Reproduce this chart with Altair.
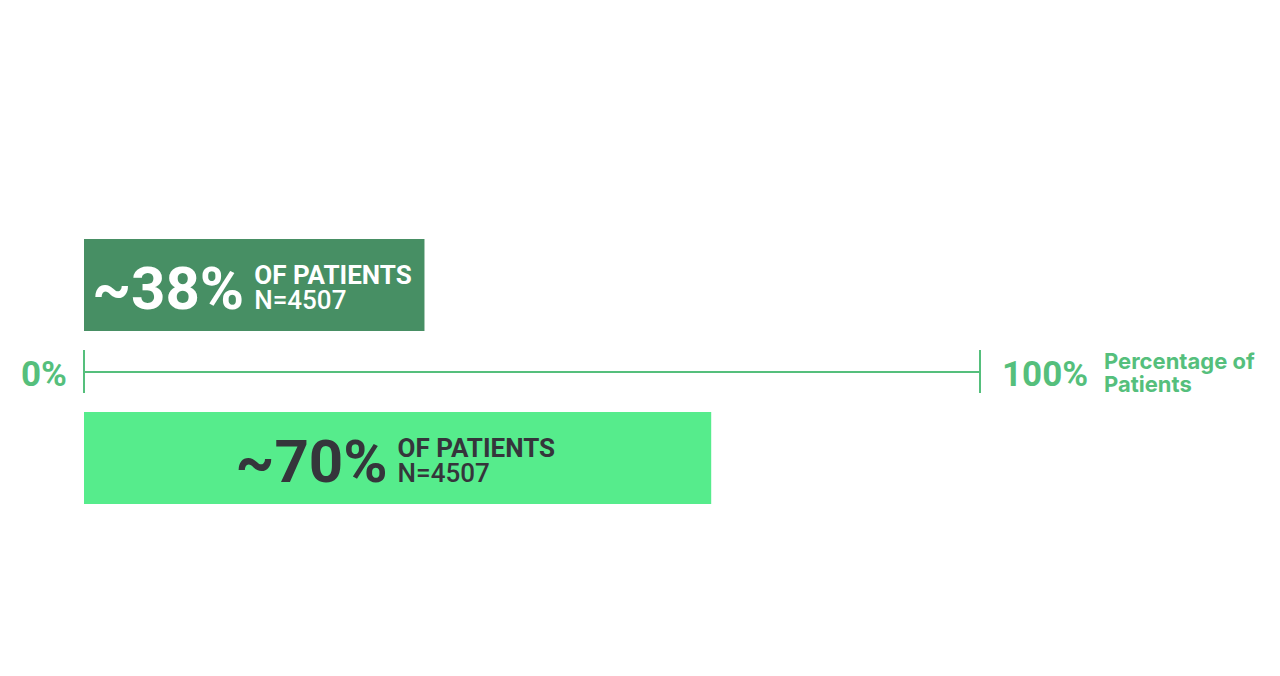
import altair as alt
import pandas as pd

# ---- data ----
rows = ["top", "bottom"]
values = [38, 70]
big_labels = ["~38%", "~70%"]
line1_labels = ["OF PATIENTS", "OF PATIENTS"]
line2_labels = ["N=4507", "N=4507"]
bar_colors = ["#478f64", "#56ec8c"]
text_colors = ["#ffffff", "#35353b"]

axis_ends = [0, 100]
axis_labels = ["0%", "100%"]
axis_title = ["Percentage of", "Patients"]

GREEN = "#55bf7c"

df = pd.DataFrame({
    "row": rows,
    "value": values,
    "big": big_labels,
    "l1": line1_labels,
    "l2": line2_labels,
})
df["start"] = 0
df["mid"] = df["value"] / 2
df["trow"] = df["row"]

xscale = alt.Scale(domain=[0, 100], range=[76, 972], nice=False, zero=False)
yscale = alt.Scale(domain=rows, range=[231, 496], paddingInner=0.468, paddingOuter=0)

base = alt.Chart(df)

bars = base.mark_bar(cornerRadius=0).encode(
    x=alt.X("start:Q", scale=xscale, axis=None),
    x2="value:Q",
    y=alt.Y("row:N", scale=yscale, axis=None, sort=rows),
    color=alt.Color("row:N", scale=alt.Scale(domain=rows, range=bar_colors), legend=None),
)

tcol = alt.Color("trow:N", scale=alt.Scale(domain=rows, range=text_colors), legend=None)

big = base.mark_text(
    font="Roboto", fontWeight="bold", fontSize=60, align="right", baseline="alphabetic", dx=-10, dy=24
).encode(
    x=alt.X("mid:Q", scale=xscale, axis=None),
    y=alt.Y("row:N", scale=yscale, axis=None, sort=rows),
    text="big:N",
    color=tcol,
)

small1 = base.mark_text(
    font="Roboto", fontWeight="bold", fontSize=26, align="left", baseline="alphabetic", dx=0, dy=-1
).encode(
    x=alt.X("mid:Q", scale=xscale, axis=None),
    y=alt.Y("row:N", scale=yscale, axis=None, sort=rows),
    text="l1:N",
    color=tcol,
)

small2 = base.mark_text(
    font="Roboto", fontWeight=500, fontSize=26, align="left", baseline="alphabetic", dx=0, dy=24
).encode(
    x=alt.X("mid:Q", scale=xscale, axis=None),
    y=alt.Y("row:N", scale=yscale, axis=None, sort=rows),
    text="l2:N",
    color=tcol,
)

# ---- axis ----
axdf = pd.DataFrame({"x0": [axis_ends[0]], "x1": [axis_ends[1]]})
axis_line = alt.Chart(axdf).mark_rule(color=GREEN, strokeWidth=2).encode(
    x=alt.X("x0:Q", scale=xscale, axis=None),
    x2="x1:Q",
    y=alt.value(364),
)

tickdf = pd.DataFrame({"x": axis_ends, "label": axis_labels})
ticks = alt.Chart(tickdf).mark_rule(color=GREEN, strokeWidth=2).encode(
    x=alt.X("x:Q", scale=xscale, axis=None),
    y=alt.value(342),
    y2=alt.value(385),
)

lbl0 = alt.Chart(tickdf).transform_filter(alt.datum.x == 0).mark_text(
    font="Roboto", fontWeight="bold", fontSize=35, align="right", baseline="alphabetic", dx=-17, color=GREEN
).encode(
    x=alt.X("x:Q", scale=xscale, axis=None),
    y=alt.value(378),
    text="label:N",
)

lbl100 = alt.Chart(tickdf).transform_filter(alt.datum.x == 100).mark_text(
    font="Roboto", fontWeight="bold", fontSize=35, align="left", baseline="alphabetic", dx=22, color=GREEN
).encode(
    x=alt.X("x:Q", scale=xscale, axis=None),
    y=alt.value(378),
    text="label:N",
)

titledf = pd.DataFrame({"x": [axis_ends[1]], "t": ["\n".join(axis_title)]})
title = alt.Chart(titledf).mark_text(
    font="Inter", fontWeight="bold", fontSize=22, align="left", baseline="alphabetic",
    dx=124, color=GREEN, lineBreak="\n", lineHeight=23
).encode(
    x=alt.X("x:Q", scale=xscale, axis=None),
    y=alt.value(361),
    text="t:N",
)

chart = alt.layer(bars, big, small1, small2, axis_line, ticks, lbl0, lbl100, title).resolve_scale(
    color="independent"
).properties(
    width=1264, height=660, autosize=alt.AutoSizeParams(type="none"), padding=0, background="#ffffff"
).configure_view(stroke=None)

chart.save("out.html", embed_options={"renderer": "svg", "actions": False})
